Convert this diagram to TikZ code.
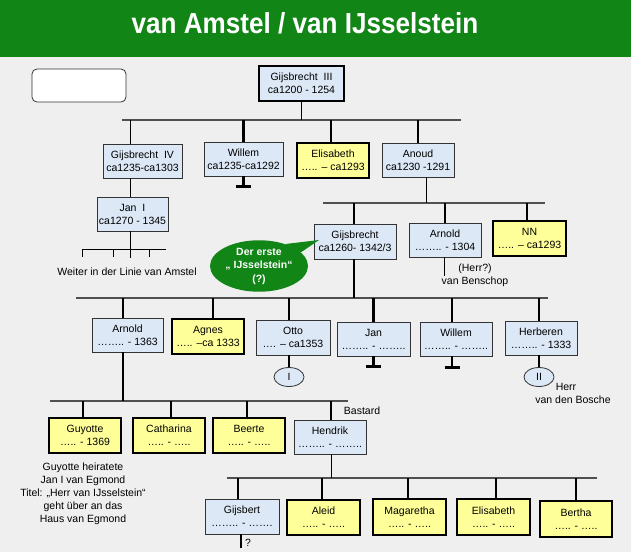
\documentclass[tikz,border=0pt]{standalone}
\usepackage{fontspec}
\setmainfont{Liberation Sans}
\usepackage{tikz}
\usetikzlibrary{shapes.geometric,positioning}
\usepackage{xcolor}
\definecolor{ijgreen}{RGB}{17,133,22}
\definecolor{ijblue}{RGB}{220,232,246}
\definecolor{ijyellow}{RGB}{255,255,153}
\definecolor{ijgray}{RGB}{239,239,239}
\definecolor{ijbar}{RGB}{80,80,80}
\tikzstyle{person} = [rectangle, minimum width=72pt, minimum height=34pt, align=center, draw=black!80, fill=ijblue, line width=0.8pt, inner sep=1pt, font=\fontsize{10.5}{13}\selectfont]
\tikzstyle{daughter} = [person, fill=ijyellow, draw=black, line width=2pt]
\tikzstyle{head} = [person, draw=black, line width=2pt]
\tikzstyle{branch} = [ellipse, draw=black!80, fill=ijblue, line width=0.8pt, minimum width=30pt, minimum height=19pt, inner sep=0pt, font=\fontsize{10.5}{13}\selectfont]
\tikzstyle{note} = [align=center, inner sep=0pt, font=\fontsize{10.5}{13}\selectfont]
\tikzstyle{bar} = [line width=1.6pt, color=ijbar]
\tikzstyle{drop} = [line width=2.2pt, color=black]
\tikzstyle{link} = [line width=0.9pt, color=black]

\begin{document}
\begin{tikzpicture}[x=1pt, y=-1pt]
\useasboundingbox (0,0) rectangle (631,552);
\fill[ijgray] (0,0) rectangle (631,552);
\fill[ijgreen] (0,0) rectangle (631,57);
\node[text=white, font=\fontsize{29}{32}\selectfont\bfseries] (title) at (305,23) {\scalebox{0.9}[1]{van Amstel / van IJsselstein}};

% Generation 1
\node (legend) [person, fill=white, rounded corners=5pt, minimum width=94pt, minimum height=33pt] at (79,85.5) {};
\node (gijsbrecht_iii) [head, minimum width=85pt, minimum height=35pt] at (301.5,83.5) {Gijsbrecht~~III\\ca1200 - 1254};

% Generation 2
\node (gijsbrecht_iv) [person, minimum width=79pt] at (142.5,161) {Gijsbrecht~~IV\\ca1235-ca1303};
\node (willem_a) [person, minimum width=79pt] at (243.5,159) {Willem\\ca1235-ca1292};
\node (elisabeth_a) [daughter, minimum height=35pt] at (333,160.5) {Elisabeth\\….. – ca1293};
\node (anoud) [person] at (418,160) {Anoud\\ca1230 -1291};
\node (jan_i) [person, minimum width=71pt] at (132.5,214) {Jan~~I\\ca1270 - 1345};

\coordinate (bar_a_w) at (122,120);
\coordinate (bar_a_e) at (461,120);
\draw[bar] (bar_a_w) -- (bar_a_e);
\draw[link] (gijsbrecht_iii.south) -- (gijsbrecht_iii.south |- bar_a_w);
\draw[link] ([xshift=-12.5pt]gijsbrecht_iv.north) -- ([xshift=-12.5pt]gijsbrecht_iv.north |- bar_a_w);
\draw[drop] (willem_a.north) -- (willem_a.north |- bar_a_w);
\draw[drop] ([xshift=-2pt]elisabeth_a.north) -- ([xshift=-2pt]elisabeth_a.north |- bar_a_w);
\draw[drop] (anoud.north) -- (anoud.north |- bar_a_w);
\draw[drop] (willem_a.south) -- ++(0,10) coordinate (willem_a_end);
\draw[drop] ([xshift=-7.5pt]willem_a_end) -- ([xshift=7.5pt]willem_a_end);
\draw[link] ([xshift=-12.5pt]gijsbrecht_iv.south) -- ([xshift=-12.5pt]gijsbrecht_iv.south |- jan_i.north);

% Linie van Amstel
\coordinate (amstel_w) at (82,249);
\coordinate (amstel_e) at (166,249);
\draw[link] (amstel_w) -- (amstel_e);
\draw[link] ([xshift=-2pt]jan_i.south) -- ([xshift=-2pt]jan_i.south |- 0,258);
\foreach \dx in {0,31,67} \draw[link] ([xshift=\dx pt]amstel_w) -- ++(0,8);
\node (amstel_note) [note] at (127,272) {Weiter in der Linie van Amstel};

% Generation 3
\node (gijsbrecht_c) [person, minimum width=82pt, minimum height=35pt] at (355,241.5) {Gijsbrecht\\ca1260- 1342/3};
\node (arnold_b) [person] at (445,240) {Arnold\\…….. - 1304};
\node (nn) [daughter, minimum width=73pt, minimum height=35pt] at (529.5,238.5) {NN\\….. – ca1293};
\coordinate (bar_b_w) at (323,203);
\coordinate (bar_b_e) at (545,203);
\draw[bar] (bar_b_w) -- (bar_b_e);
\draw[link] ([xshift=8pt]anoud.south) -- ([xshift=8pt]anoud.south |- bar_b_w);
\draw[drop] ([xshift=-1pt]gijsbrecht_c.north) -- ([xshift=-1pt]gijsbrecht_c.north |- bar_b_w);
\draw[drop] (arnold_b.north) -- (arnold_b.north |- bar_b_w);
\draw[drop] ([xshift=-2.5pt]nn.north) -- ([xshift=-2.5pt]nn.north |- bar_b_w);
\draw[link] ([xshift=-1pt]arnold_b.south) -- ++(0,19);
\node (benschop) [note] at (475,275) {(Herr?)\\van Benschop};

% Bubble
\coordinate (bubble_tip) at (319,240);
\node (bubble) [ellipse, fill=ijgreen, minimum width=98pt, minimum height=46pt, inner sep=0pt, align=center, text=white, font=\fontsize{10.5}{13.5}\selectfont\bfseries] at (259,266) {Der erste\\„ IJsselstein“\\(?)};
\fill[ijgreen] (bubble.40) -- (bubble_tip) -- (bubble.18) -- cycle;

% Generation 4
\node (arnold_d) [person, minimum width=71pt] at (127.5,335) {Arnold\\…….. - 1363};
\node (agnes) [daughter, minimum height=35pt] at (208,336.5) {Agnes\\….. –ca 1333};
\node (otto) [person, minimum width=74pt, minimum height=35pt] at (293,337.5) {Otto\\…. – ca1353};
\node (jan_d) [person, minimum width=73pt] at (373.5,339) {Jan\\…….. - ……..};
\node (willem_d) [person] at (456,339) {Willem\\…….. - ……..};
\node (herberen) [person] at (541,338) {Herberen\\…….. - 1333};
\coordinate (bar_c_w) at (76,298);
\coordinate (bar_c_e) at (548,298);
\draw[bar] (bar_c_w) -- (bar_c_e);
\draw[drop] ([xshift=-1pt]gijsbrecht_c.south) -- ([xshift=-1pt]gijsbrecht_c.south |- bar_c_w);
\draw[drop] ([xshift=-4.5pt]arnold_d.north) -- ([xshift=-4.5pt]arnold_d.north |- bar_c_w);
\draw[drop] ([xshift=5pt]agnes.north) -- ([xshift=5pt]agnes.north |- bar_c_w);
\draw[drop] ([xshift=-4pt]otto.north) -- ([xshift=-4pt]otto.north |- bar_c_w);
\draw[drop] (jan_d.north) -- (jan_d.north |- bar_c_w);
\draw[drop] ([xshift=-4pt]willem_d.north) -- ([xshift=-4pt]willem_d.north |- bar_c_w);
\draw[drop] ([xshift=-2pt]herberen.north) -- ([xshift=-2pt]herberen.north |- bar_c_w);

\node (otto_i) [branch] at (289,377) {I};
\node (herberen_ii) [branch] at (539,377) {II};
\draw[drop] (otto_i.north) -- (otto_i.north |- otto.south);
\draw[drop] (herberen_ii.north) -- (herberen_ii.north |- herberen.south);
\node (bosche) [note, align=center] at (573,393) {\hspace*{-14pt}Herr\\van den Bosche};
\draw[drop] (jan_d.south) -- ++(0,10) coordinate (jan_d_end);
\draw[drop] ([xshift=-7.5pt]jan_d_end) -- ([xshift=7.5pt]jan_d_end);
\draw[drop] ([xshift=-4pt]willem_d.south) -- ++(0,11) coordinate (willem_d_end);
\draw[drop] ([xshift=-7.5pt]willem_d_end) -- ([xshift=7.5pt]willem_d_end);

% Generation 5
\node (guyotte) [daughter, minimum height=35pt] at (85,435.5) {Guyotte\\….. - 1369};
\node (catharina) [daughter, minimum height=35pt] at (169,435.5) {Catharina\\….. - …..};
\node (beerte) [daughter, minimum height=35pt] at (249,435.5) {Beerte\\….. - …..};
\node (hendrik) [person] at (330,437) {Hendrik\\…….. - ……..};
\coordinate (bar_d_w) at (50,401);
\coordinate (bar_d_e) at (348,401);
\draw[bar] (bar_d_w) -- (bar_d_e);
\draw[drop] ([xshift=-4.5pt]arnold_d.south) -- ([xshift=-4.5pt]arnold_d.south |- bar_d_w);
\draw[drop] ([xshift=-2pt]guyotte.north) -- ([xshift=-2pt]guyotte.north |- bar_d_w);
\draw[drop] ([xshift=2pt]catharina.north) -- ([xshift=2pt]catharina.north |- bar_d_w);
\draw[drop] ([xshift=-2pt]beerte.north) -- ([xshift=-2pt]beerte.north |- bar_d_w);
\draw[drop] ([xshift=1pt]hendrik.north) -- ([xshift=1pt]hendrik.north |- bar_d_w);
\node (bastard) [note] at (362,411) {Bastard};
\node (guyotte_note) [note] at (83,494) {Guyotte heiratete\\Jan I van Egmond\\Titel: „Herr van IJsselstein“\\geht über an das\\Haus van Egmond};

% Generation 6
\node (gijsbert) [person, minimum width=74pt, minimum height=35pt] at (242,516.5) {Gijsbert\\…….. - …….};
\node (aleid) [daughter, minimum width=73pt, minimum height=35pt] at (323.5,517.5) {Aleid\\….. - …..};
\node (magaretha) [daughter, minimum width=73pt, minimum height=36pt] at (409.5,517) {Magaretha\\….. - …..};
\node (elisabeth_e) [daughter, minimum width=73pt, minimum height=36pt] at (493.5,517) {Elisabeth\\….. - …..};
\node (bertha) [daughter, minimum height=36pt] at (576,519) {Bertha\\….. - …..};
\coordinate (bar_e_w) at (227,478);
\coordinate (bar_e_e) at (597,478);
\draw[bar] (bar_e_w) -- (bar_e_e);
\draw[link] ([xshift=1pt]hendrik.south) -- ([xshift=1pt]hendrik.south |- bar_e_w);
\draw[drop] ([xshift=-4pt]gijsbert.north) -- ([xshift=-4pt]gijsbert.north |- bar_e_w);
\draw[drop] ([xshift=-1.5pt]aleid.north) -- ([xshift=-1.5pt]aleid.north |- bar_e_w);
\draw[drop] ([xshift=-1.5pt]magaretha.north) -- ([xshift=-1.5pt]magaretha.north |- bar_e_w);
\draw[drop] ([xshift=2.5pt]elisabeth_e.north) -- ([xshift=2.5pt]elisabeth_e.north |- bar_e_w);
\draw[drop] (bertha.north) -- (bertha.north |- bar_e_w);
\draw[drop] ([xshift=-1pt]gijsbert.south) -- ++(0,14) node[note, right=3pt, pos=0.6] (unknown) {?};
\end{tikzpicture}
\end{document}
